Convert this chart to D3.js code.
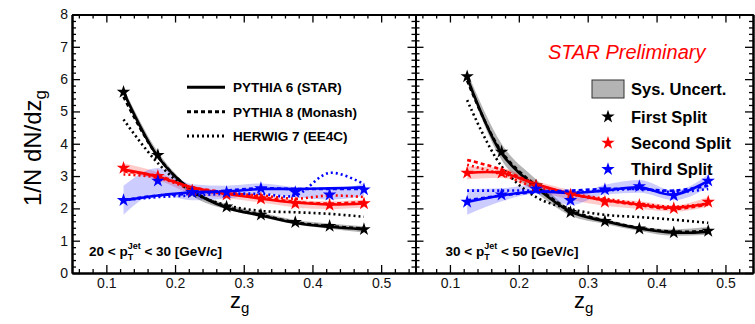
<!DOCTYPE html>
<html>
<head>
<meta charset="utf-8">
<script src="https://cdn.jsdelivr.net/npm/d3@7/dist/d3.min.js"></script>
<style>
  body { margin: 0; background: #fff; }
  svg { display: block; font-family: "Liberation Sans", Arial, Helvetica, sans-serif; }
</style>
</head>
<body>
<div id="chart"></div>
<script>
// bin centres of z_g
const zgBins = [0.125, 0.175, 0.225, 0.275, 0.325, 0.375, 0.425, 0.475]
const xTicks = [0.1, 0.2, 0.3, 0.4, 0.5]
const yTicks = [0, 1, 2, 3, 4, 5, 6, 7, 8]

// 20 < pT < 30
const first20 = [5.6, 3.65, 2.5, 2.05, 1.8, 1.57, 1.45, 1.35]
const first20Err = [0.12, 0.1, 0.1, 0.08, 0.07, 0.07, 0.08, 0.1]
const py6First20 = [5.6, 3.6, 2.55, 2.02, 1.78, 1.55, 1.43, 1.35]
const py8First20 = [5.45, 3.6, 2.55, 2.05, 1.8, 1.57, 1.45, 1.38]
const hw7First20 = [4.75, 3.4, 2.5, 2.1, 1.92, 1.88, 1.83, 1.74]

const second20 = [3.25, 3.0, 2.55, 2.42, 2.3, 2.15, 2.1, 2.15]
const second20Err = [0.15, 0.12, 0.1, 0.1, 0.12, 0.12, 0.12, 0.12]
const py6Second20 = [3.2, 2.98, 2.65, 2.45, 2.3, 2.18, 2.12, 2.15]
const py8Second20 = [3.15, 3.0, 2.65, 2.5, 2.35, 2.2, 2.15, 2.2]
const hw7Second20 = [3.05, 2.95, 2.6, 2.45, 2.4, 2.3, 2.4, 2.35]

const third20 = [2.25, 2.85, 2.5, 2.5, 2.62, 2.5, 2.42, 2.58]
const third20Err = [0.45, 0.4, 0.25, 0.2, 0.15, 0.15, 0.15, 0.2]
const py6Third20 = [2.25, 2.4, 2.5, 2.52, 2.6, 2.6, 2.62, 2.65]
const py8Third20 = [2.25, 2.4, 2.45, 2.55, 2.62, 2.6, 2.6, 2.6]
const hw7Third20 = [2.25, 2.35, 2.4, 2.45, 2.45, 2.4, 3.1, 2.75]

// 30 < pT < 50
const first30 = [6.08, 3.75, 2.7, 1.88, 1.6, 1.37, 1.25, 1.3]
const first30Err = [0.15, 0.25, 0.2, 0.1, 0.08, 0.07, 0.1, 0.12]
const py6First30 = [6.05, 3.7, 2.65, 1.9, 1.6, 1.38, 1.25, 1.27]
const py8First30 = [5.95, 3.75, 2.7, 1.95, 1.62, 1.4, 1.28, 1.3]
const hw7First30 = [5.35, 3.3, 2.35, 1.98, 1.8, 1.73, 1.65, 1.55]

const second30 = [3.1, 3.1, 2.7, 2.42, 2.2, 2.1, 2.0, 2.2]
const second30Err = [0.2, 0.15, 0.15, 0.15, 0.12, 0.12, 0.1, 0.15]
const py6Second30 = [3.1, 3.1, 2.75, 2.45, 2.25, 2.12, 2.02, 2.15]
const py8Second30 = [3.5, 3.2, 2.75, 2.45, 2.25, 2.1, 1.98, 2.12]
const hw7Second30 = [3.35, 3.05, 2.65, 2.45, 2.3, 2.15, 2.05, 2.15]

const third30 = [2.2, 2.42, 2.6, 2.25, 2.58, 2.68, 2.4, 2.85]
const third30Err = [0.4, 0.2, 0.15, 0.15, 0.15, 0.2, 0.15, 0.2]
const py6Third30 = [2.2, 2.4, 2.52, 2.48, 2.55, 2.65, 2.42, 2.85]
const py8Third30 = [2.25, 2.4, 2.5, 2.55, 2.6, 2.6, 2.55, 2.7]
const hw7Third30 = [2.55, 2.55, 2.55, 2.5, 2.55, 2.6, 2.5, 2.6]

const splitNames = ['First Split', 'Second Split', 'Third Split']
const mcNames = ['PYTHIA 6 (STAR)', 'PYTHIA 8 (Monash)', 'HERWIG 7 (EE4C)']

const colors = ['#000000', '#ff0000', '#0000ff']
const bandColors = ['rgba(120,120,120,0.55)', 'rgba(255,0,0,0.2)', 'rgba(0,0,255,0.2)']
const dashes = [null, '4,3', '2,3']

const W = 755
const H = 324
const font = '"Liberation Sans", Arial, Helvetica, sans-serif'

const panels = [
  {
    lo: 20, hi: 30, domain: [0.05, 0.55], range: [72, 415.5],
    series: [
      { data: first20, err: first20Err, mc: [py6First20, py8First20, hw7First20] },
      { data: second20, err: second20Err, mc: [py6Second20, py8Second20, hw7Second20] },
      { data: third20, err: third20Err, mc: [py6Third20, py8Third20, hw7Third20] },
    ],
  },
  {
    lo: 30, hi: 50, domain: [0.05, 0.54], range: [415.5, 753],
    series: [
      { data: first30, err: first30Err, mc: [py6First30, py8First30, hw7First30] },
      { data: second30, err: second30Err, mc: [py6Second30, py8Second30, hw7Second30] },
      { data: third30, err: third30Err, mc: [py6Third30, py8Third30, hw7Third30] },
    ],
  },
]

const svg = d3.select('#chart').append('svg')
  .attr('width', W).attr('height', H)

svg.append('rect').attr('width', W).attr('height', H).attr('fill', '#fff')

const y = d3.scaleLinear().domain([0, 8]).range([273, 14.5])

const xMinor = d3.range(6, 55, 2).map((v) => v / 100).filter((v) => Math.round(v * 100) % 10 !== 0)
const yMinor = d3.range(0, 41).map((v) => v / 5).filter((v) => v % 1 !== 0)

const star = d3.symbol().type(d3.symbolStar).size(56)

function styleAxis(sel, labels) {
  sel.attr('font-family', font).attr('font-size', 14)
  sel.select('.domain').attr('stroke-width', 2)
  sel.selectAll('.tick line').attr('stroke-width', 1.3)
  if (!labels) sel.selectAll('.tick text').remove()
  else sel.selectAll('.tick text').attr('fill', '#111')
}

panels.forEach((p, pi) => {
  const x = d3.scaleLinear().domain(p.domain).range(p.range)
  const g = svg.append('g')

  // systematic bands
  p.series.forEach((s, si) => {
    const area = d3.area()
      .x((d, j) => x(zgBins[j]))
      .y0((d, j) => y(s.data[j] - s.err[j]))
      .y1((d, j) => y(s.data[j] + s.err[j]))
      .curve(d3.curveMonotoneX)
    g.append('path').datum(s.data)
      .attr('fill', bandColors[si])
      .attr('d', area)
  })

  // MC curves
  p.series.forEach((s, si) => {
    s.mc.forEach((vals, mi) => {
      const line = d3.line()
        .x((d, j) => x(zgBins[j]))
        .y((d) => y(d))
        .curve(d3.curveCatmullRom.alpha(0.5))
      g.append('path').datum(vals)
        .attr('fill', 'none')
        .attr('stroke', colors[si])
        .attr('stroke-width', 2.6)
        .attr('stroke-dasharray', dashes[mi])
        .attr('d', line)
    })
  })

  // data stars
  p.series.forEach((s, si) => {
    g.selectAll(null).data(s.data).enter().append('path')
      .attr('d', star)
      .attr('transform', (d, j) => `translate(${x(zgBins[j])},${y(d)})`)
      .attr('fill', colors[si])
  })

  // frame + ticks
  const bottom = g.append('g').attr('transform', `translate(0,${y(0)})`)
    .call(d3.axisBottom(x).tickValues(xTicks).tickSize(-8).tickSizeOuter(0).tickPadding(5).tickFormat(d3.format('.1f')))
  styleAxis(bottom, true)
  const bottomMinor = g.append('g').attr('transform', `translate(0,${y(0)})`)
    .call(d3.axisBottom(x).tickValues(xMinor).tickSize(-4).tickSizeOuter(0))
  styleAxis(bottomMinor, false)

  const top = g.append('g').attr('transform', `translate(0,${y(8)})`)
    .call(d3.axisTop(x).tickValues(xTicks).tickSize(-8).tickSizeOuter(0))
  styleAxis(top, false)
  const topMinor = g.append('g').attr('transform', `translate(0,${y(8)})`)
    .call(d3.axisTop(x).tickValues(xMinor).tickSize(-4).tickSizeOuter(0))
  styleAxis(topMinor, false)

  const left = g.append('g').attr('transform', `translate(${p.range[0]},0)`)
    .call(d3.axisLeft(y).tickValues(yTicks).tickSize(-8).tickSizeOuter(0).tickPadding(4))
  styleAxis(left, pi === 0)
  const leftMinor = g.append('g').attr('transform', `translate(${p.range[0]},0)`)
    .call(d3.axisLeft(y).tickValues(yMinor).tickSize(-4).tickSizeOuter(0))
  styleAxis(leftMinor, false)

  const right = g.append('g').attr('transform', `translate(${p.range[1]},0)`)
    .call(d3.axisRight(y).tickValues(yTicks).tickSize(-8).tickSizeOuter(0))
  styleAxis(right, false)
  const rightMinor = g.append('g').attr('transform', `translate(${p.range[1]},0)`)
    .call(d3.axisRight(y).tickValues(yMinor).tickSize(-4).tickSizeOuter(0))
  styleAxis(rightMinor, false)

  // pT bin label
  const lab = g.append('text')
    .attr('x', p.range[0] + (pi === 0 ? 17 : 30))
    .attr('y', 256)
    .attr('font-family', font)
    .attr('font-weight', 'bold')
    .attr('font-size', 13.5)
  lab.append('tspan').text(`${p.lo} < p`)
  lab.append('tspan').attr('font-size', 9).attr('dy', 4).text('T')
  lab.append('tspan').attr('font-size', 9).attr('dx', -5.5).attr('dy', -11).text('Jet')
  lab.append('tspan').attr('dy', 7).text(` < ${p.hi} [GeV/c]`)

  // x title
  const xt = svg.append('text')
    .attr('x', x(0.3) - 4)
    .attr('y', 308)
    .attr('text-anchor', 'middle')
    .attr('font-family', font)
    .attr('font-size', 22)
  xt.append('tspan').text('z')
  xt.append('tspan').attr('font-size', 15).attr('dy', 5).text('g')
})

// y title
const yt = svg.append('text')
  .attr('transform', 'translate(41,148) rotate(-90)')
  .attr('text-anchor', 'middle')
  .attr('font-family', font)
  .attr('font-size', 24)
yt.append('tspan').text('1/N dN/dz')
yt.append('tspan').attr('font-size', 17).attr('dy', 5).text('g')

// MC legend (left panel)
const mcLeg = svg.append('g')
mcNames.forEach((name, i) => {
  const ly = 87.3 + i * 24.4
  mcLeg.append('line')
    .attr('x1', 187).attr('x2', 225).attr('y1', ly).attr('y2', ly)
    .attr('stroke', '#000').attr('stroke-width', 3)
    .attr('stroke-dasharray', dashes[i])
  mcLeg.append('text')
    .attr('x', 233).attr('y', ly).attr('dy', '0.36em')
    .attr('font-family', font).attr('font-weight', 'bold').attr('font-size', 13.5)
    .text(name)
})

// STAR Preliminary
svg.append('text')
  .attr('x', 548).attr('y', 58.5)
  .attr('font-family', font).attr('font-style', 'italic').attr('font-size', 20)
  .attr('fill', '#ff0000')
  .text('STAR Preliminary')

// data legend (right panel)
const dLeg = svg.append('g')
dLeg.append('rect')
  .attr('x', 592).attr('y', 80).attr('width', 32).attr('height', 18)
  .attr('fill', '#b4b4b4').attr('stroke', '#333').attr('stroke-width', 1)
dLeg.append('text')
  .attr('x', 631).attr('y', 89).attr('dy', '0.36em')
  .attr('font-family', font).attr('font-weight', 'bold').attr('font-size', 16.5)
  .text('Sys. Uncert.')
splitNames.forEach((name, i) => {
  const ly = 116.7 + i * 26.3
  dLeg.append('path')
    .attr('d', star)
    .attr('transform', `translate(608,${ly})`)
    .attr('fill', colors[i])
  dLeg.append('text')
    .attr('x', 631).attr('y', ly).attr('dy', '0.36em')
    .attr('font-family', font).attr('font-weight', 'bold').attr('font-size', 16.5)
    .text(name)
})
</script>
</body>
</html>
